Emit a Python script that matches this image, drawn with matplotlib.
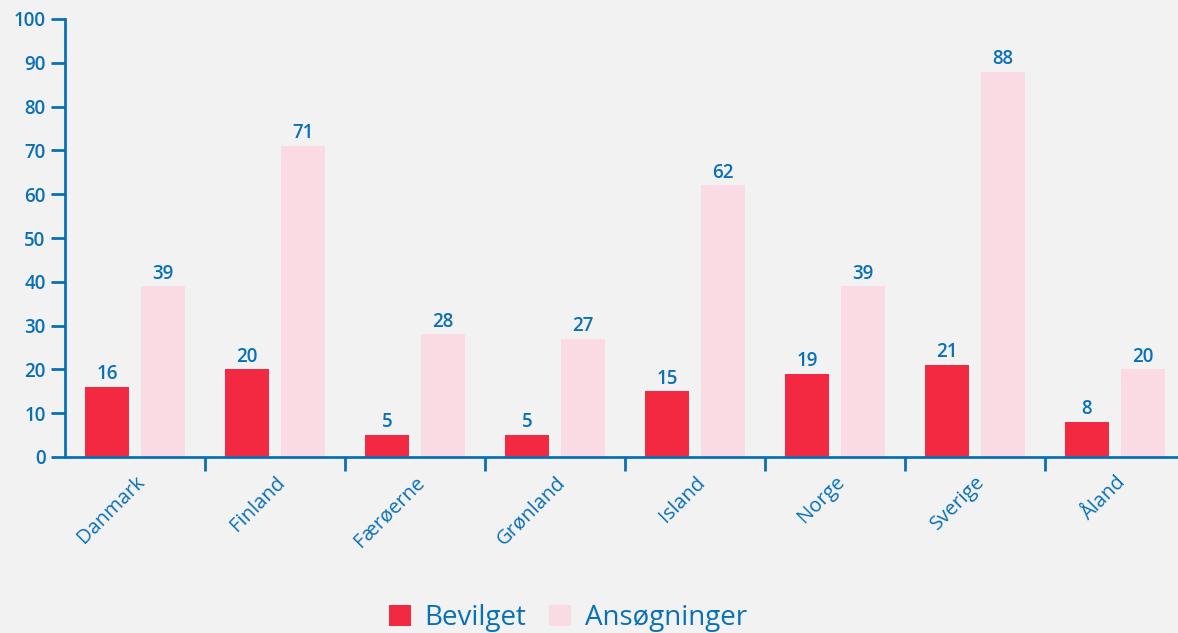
import matplotlib.pyplot as plt
import numpy as np

lande = ['Danmark', 'Finland', 'Færøerne', 'Grønland', 'Island', 'Norge', 'Sverige', 'Åland']
bevilget = [16, 20, 5, 5, 15, 19, 21, 8]
ansogninger = [39, 71, 28, 27, 62, 39, 88, 20]

blue = '#0a70b6'
red = '#f32942'
pink = '#fadbe4'
bg = '#f2f2f2'

plt.rcParams['font.family'] = ['Open Sans', 'DejaVu Sans']

fig = plt.figure(figsize=(11.78, 6.33), dpi=100, facecolor=bg)
ax = fig.add_axes([65/1178, 1-457/633, 1120/1178, (457-19)/633])
ax.set_facecolor(bg)

x = np.arange(len(lande))
w = 0.32
b1 = ax.bar(x - 0.2, bevilget, w, color=red, label='Bevilget')
b2 = ax.bar(x + 0.2, ansogninger, w, color=pink, label='Ansøgninger')

for bars, vals in [(b1, bevilget), (b2, ansogninger)]:
    for r, v in zip(bars, vals):
        ax.text(r.get_x() + r.get_width()/2, v + 0.6, str(v), ha='center', va='bottom',
                color=blue, fontsize=13.5, fontweight='semibold')

ax.set_xlim(-0.5, len(lande) - 0.5)
ax.set_ylim(0, 100)
ax.set_yticks(range(0, 101, 10))
ax.tick_params(axis='y', colors=blue, labelsize=13.5, length=10, width=2, pad=4)
for t in ax.get_yticklabels():
    t.set_fontweight('semibold')

ax.set_xticks(x)
ax.set_xticklabels(lande, rotation=45, ha='right', rotation_mode='anchor', color=blue,
                   fontsize=14.5, fontweight='medium')
ax.tick_params(axis='x', which='major', length=0, pad=11)
ax.set_xticks(np.arange(0.5, len(lande) - 0.5), minor=True)
ax.tick_params(axis='x', which='minor', length=10, width=2, color=blue)

for s in ['top', 'right']:
    ax.spines[s].set_visible(False)
for s in ['left', 'bottom']:
    ax.spines[s].set_color(blue)
    ax.spines[s].set_linewidth(2)

leg = fig.legend(loc='lower center', bbox_to_anchor=(0.482, -0.038), ncol=2, frameon=False,
                 fontsize=20, handlelength=0.8, handleheight=0.8, handletextpad=0.5, columnspacing=0.8)
for t in leg.get_texts():
    t.set_color(blue)

fig.savefig('out.png', dpi=100, facecolor=bg)
